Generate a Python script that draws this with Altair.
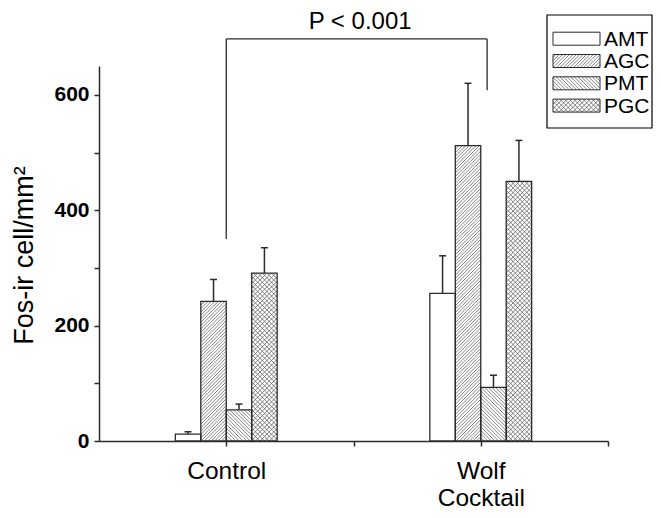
import math
import altair as alt
import pandas as pd

# ---------------- data ----------------
groups = ["Control", "Wolf Cocktail"]
regions = ["AMT", "AGC", "PMT", "PGC"]
control_mean = [12, 242, 54, 291]
control_sem = [4, 38, 10, 44]
wolf_mean = [256, 512, 93, 450]
wolf_sem = [65, 108, 21, 71]
y_tick_values = [0, 100, 200, 300, 400, 500, 600]
p_label = "P < 0.001"
bracket_left_bottom = 350
bracket_right_bottom = 608
bracket_top = 697
y_title = "Fos-ir cell/mm²"

# ---------------- layout / style ----------------
W, H = 509, 375
XD = (0.5, 2.5)
YD = (0, 650)
kx = W / (XD[1] - XD[0])
ky = H / (YD[1] - YD[0])
BAR_W = 0.1
OFFSETS = [-1.5 * BAR_W, -0.5 * BAR_W, 0.5 * BAR_W, 1.5 * BAR_W]
PATTERN = {"AMT": None, "AGC": "/", "PMT": "\\", "PGC": "x"}
SPACING = {"/": 3.4, "\\": 3.6, "x": 4.6}
INK = "#2b2b2b"
HATCH = "#505050"
FONT = "Liberation Sans"


def hatch_px(x0, x1, y0, y1, kind, s):
    """Hatch segments inside a pixel rectangle (y upward)."""
    segs = []
    dirs = ["/", "\\"] if kind == "x" else [kind]
    for d in dirs:
        if d == "/":  # y = x + c
            lo, hi = y0 - x1, y1 - x0
            c = math.ceil(lo / s) * s
            while c <= hi:
                a = max(x0, y0 - c)
                b = min(x1, y1 - c)
                if b - a > 0.3:
                    segs.append((a, a + c, b, b + c))
                c += s
        else:  # y = -x + c
            lo, hi = x0 + y0, x1 + y1
            c = math.ceil(lo / s) * s
            while c <= hi:
                a = max(x0, c - y1)
                b = min(x1, c - y0)
                if b - a > 0.3:
                    segs.append((a, c - a, b, c - b))
                c += s
    return segs


# bars
rows = []
for gi, (means, sems) in enumerate([(control_mean, control_sem), (wolf_mean, wolf_sem)]):
    for ri, reg in enumerate(regions):
        cx = gi + 1 + OFFSETS[ri]
        rows.append(dict(group=groups[gi], region=reg, cx=cx,
                         x0=cx - BAR_W / 2, x1=cx + BAR_W / 2,
                         base=0, mean=means[ri], top=means[ri] + sems[ri],
                         c0=cx - 3.5 / kx, c1=cx + 3.5 / kx))
bars = pd.DataFrame(rows)

# hatch lines for bars, computed in the scale's pixel frame then mapped back
hrows = []
for r in rows:
    kind = PATTERN[r["region"]]
    if kind is None:
        continue
    px0, px1 = (r["x0"] - XD[0]) * kx, (r["x1"] - XD[0]) * kx
    py0, py1 = r["base"] * ky, r["mean"] * ky
    for (a, ay, b, by) in hatch_px(px0, px1, py0, py1, kind, SPACING[kind]):
        hrows.append(dict(x=a / kx + XD[0], y=ay / ky, x2=b / kx + XD[0], y2=by / ky))
hatch = pd.DataFrame(hrows)

# bracket
bx_left = 1.0
bx_right = 2.025
bracket = pd.DataFrame([
    dict(x=bx_left, x2=bx_left, y=bracket_left_bottom, y2=bracket_top),
    dict(x=bx_left, x2=bx_right, y=bracket_top, y2=bracket_top),
    dict(x=bx_right, x2=bx_right, y=bracket_right_bottom, y2=bracket_top),
])
ptext = pd.DataFrame([dict(x=1.526, y=715, t=p_label)])

# legend (plot-relative pixels, y downward)
LBOX = (448, 553, -51, 62)
SW_X0, SW_X1, SW_H = 454, 501, 13
ROW0, ROWSTEP = -27.3, 22.3
lg_rows, lg_hatch = [], []
for i, reg in enumerate(regions):
    yc = ROW0 + i * ROWSTEP
    lg_rows.append(dict(region=reg, x0=SW_X0, x1=SW_X1, y0=yc - SW_H / 2, y1=yc + SW_H / 2,
                        tx=SW_X0 + 51, ty=yc + 1))
    kind = PATTERN[reg]
    if kind is not None:
        for (a, ay, b, by) in hatch_px(SW_X0, SW_X1, -(yc + SW_H / 2), -(yc - SW_H / 2), kind, SPACING[kind]):
            lg_hatch.append(dict(x=a, y=-ay, x2=b, y2=-by))
legend_df = pd.DataFrame(lg_rows)
legend_hatch = pd.DataFrame(lg_hatch)
legend_box = pd.DataFrame([dict(x0=LBOX[0], x1=LBOX[1], y0=LBOX[2], y1=LBOX[3])])

# ---------------- chart ----------------
xs = alt.Scale(domain=list(XD), nice=False, zero=False)
ys = alt.Scale(domain=list(YD), nice=False, zero=False)

x_axis = alt.Axis(values=[1, 1.5, 2, 2.5], title=None, grid=False,
                  labelExpr="datum.value == 1 ? 'Control' : datum.value == 2 ? ['Wolf', 'Cocktail'] : ''",
                  labelFont=FONT, labelFontSize=24.5, labelColor="black", labelPadding=13,
                  labelLineHeight=27.5, labelOverlap=False, labelBound=False, labelFlush=False,
                  domainColor=INK, domainWidth=1.5, tickColor=INK, tickWidth=1.5, tickSize=5)
y_axis = alt.Axis(values=y_tick_values, grid=False, title=y_title,
                  labelExpr="datum.value % 200 == 0 ? datum.label : ''",
                  labelFont=FONT, labelFontSize=21, labelFontWeight="bold", labelColor="black",
                  labelPadding=5, labelOverlap=False, labelBound=False,
                  domainColor=INK, domainWidth=1.5, tickColor=INK, tickWidth=1.5, tickSize=5,
                  titleFont=FONT, titleFontSize=27, titleFontWeight="normal", titleColor="black",
                  titleAngle=-90, titleAlign="center", titleBaseline="alphabetic",
                  titleX=-67, titleY=189)

bar_fill = alt.Chart(bars).mark_rect(fill="white", stroke=None).encode(
    x=alt.X("x0:Q", scale=xs, axis=x_axis), x2="x1:Q",
    y=alt.Y("base:Q", scale=ys, axis=y_axis), y2="mean:Q")

hatch_layer = alt.Chart(hatch).mark_rule(color=HATCH, strokeWidth=0.7).encode(
    x=alt.X("x:Q", scale=xs), x2="x2:Q", y=alt.Y("y:Q", scale=ys), y2="y2:Q")

bar_outline = alt.Chart(bars).mark_rect(fill=None, stroke=INK, strokeWidth=1.3).encode(
    x=alt.X("x0:Q", scale=xs), x2="x1:Q", y=alt.Y("base:Q", scale=ys), y2="mean:Q")

err_line = alt.Chart(bars).mark_rule(color=INK, strokeWidth=1.5).encode(
    x=alt.X("cx:Q", scale=xs), y=alt.Y("mean:Q", scale=ys), y2="top:Q")
err_cap = alt.Chart(bars).mark_rule(color=INK, strokeWidth=1.5).encode(
    x=alt.X("c0:Q", scale=xs), x2="c1:Q", y=alt.Y("top:Q", scale=ys))

bracket_layer = alt.Chart(bracket).mark_rule(color=INK, strokeWidth=1.3).encode(
    x=alt.X("x:Q", scale=xs), x2="x2:Q", y=alt.Y("y:Q", scale=ys), y2="y2:Q")
ptext_layer = alt.Chart(ptext).mark_text(font=FONT, fontSize=24, color="black",
                                         baseline="alphabetic", align="center").encode(
    x=alt.X("x:Q", scale=xs), y=alt.Y("y:Q", scale=ys), text="t:N")

main = alt.layer(bar_fill, hatch_layer, bar_outline, err_line, err_cap, bracket_layer, ptext_layer)

# legend layers in pixel space
px = dict(scale=None, axis=None)
lg_box = alt.Chart(legend_box).mark_rect(fill="white", stroke="black", strokeWidth=1.2).encode(
    x=alt.X("x0:Q", **px), x2="x1:Q", y=alt.Y("y0:Q", **px), y2="y1:Q")
lg_hatch_layer = alt.Chart(legend_hatch).mark_rule(color=HATCH, strokeWidth=0.7).encode(
    x=alt.X("x:Q", **px), x2="x2:Q", y=alt.Y("y:Q", **px), y2="y2:Q")
lg_sw = alt.Chart(legend_df).mark_rect(fill=None, stroke=INK, strokeWidth=1.0).encode(
    x=alt.X("x0:Q", **px), x2="x1:Q", y=alt.Y("y0:Q", **px), y2="y1:Q")
lg_txt = alt.Chart(legend_df).mark_text(font=FONT, fontSize=21, color="black",
                                        align="left", baseline="middle").encode(
    x=alt.X("tx:Q", **px), y=alt.Y("ty:Q", **px), text="region:N")

legend = alt.layer(lg_box, lg_hatch_layer, lg_sw, lg_txt)

chart = alt.layer(main, legend).resolve_scale(x="independent", y="independent").properties(
    width=W, height=H,
    autosize=alt.AutoSizeParams(type="none"),
    padding={"left": 91, "top": 58, "right": 45, "bottom": 69},
).configure_view(stroke=None)

chart.save("out.html", embed_options={"renderer": "svg", "actions": False})
